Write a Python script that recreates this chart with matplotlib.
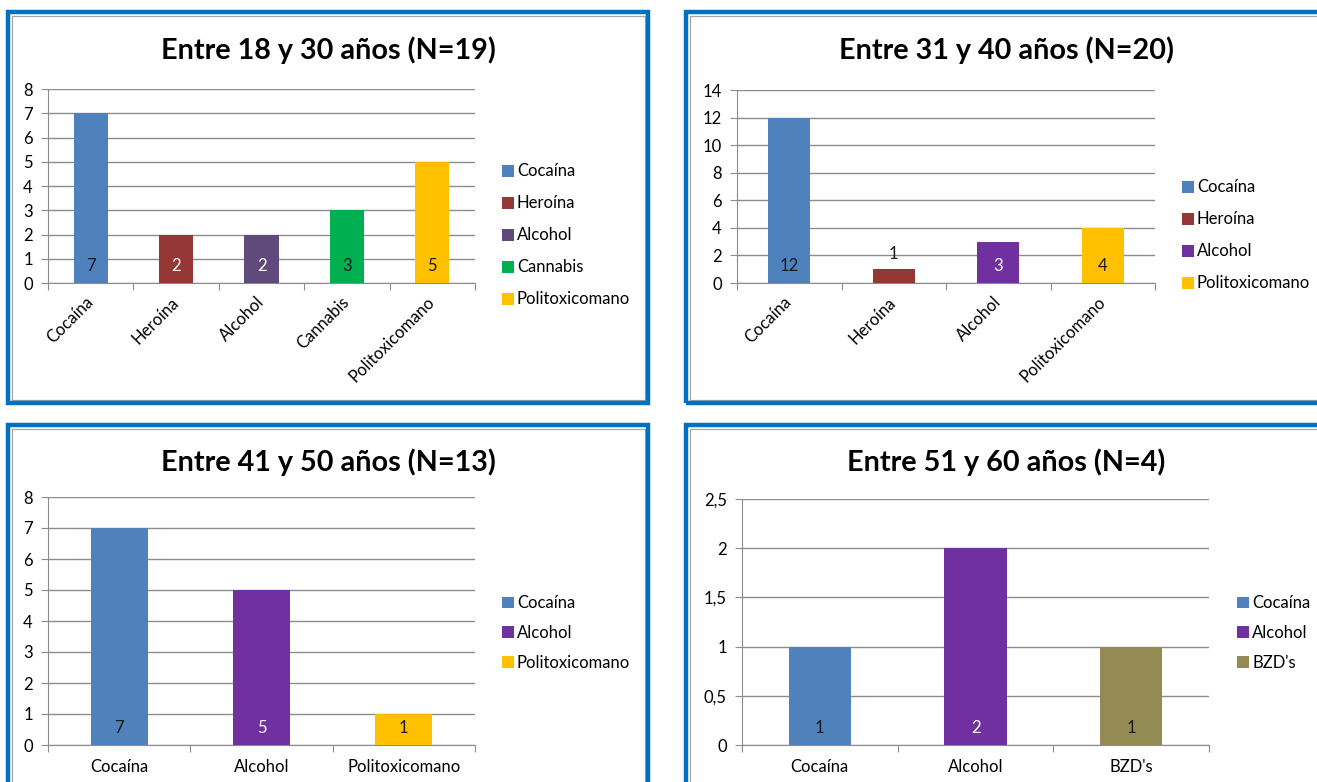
import matplotlib
matplotlib.use('Agg')
import matplotlib.pyplot as plt
from matplotlib.patches import Rectangle

# data
cats_18_30 = ['Cocaína', 'Heroína', 'Alcohol', 'Cannabis', 'Politoxicomano']
vals_18_30 = [7, 2, 2, 3, 5]
cats_31_40 = ['Cocaína', 'Heroína', 'Alcohol', 'Politoxicomano']
vals_31_40 = [12, 1, 3, 4]
cats_41_50 = ['Cocaína', 'Alcohol', 'Politoxicomano']
vals_41_50 = [7, 5, 1]
cats_51_60 = ['Cocaína', 'Alcohol', "BZD's"]
vals_51_60 = [1, 2, 1]

titles = ['Entre 18 y 30 años (N=19)', 'Entre 31 y 40 años (N=20)',
          'Entre 41 y 50 años (N=13)', 'Entre 51 y 60 años (N=4)']
yticks_18_30 = [0, 1, 2, 3, 4, 5, 6, 7, 8]
yticks_31_40 = [0, 2, 4, 6, 8, 10, 12, 14]
yticks_41_50 = [0, 1, 2, 3, 4, 5, 6, 7, 8]
yticks_51_60 = [0, 0.5, 1, 1.5, 2, 2.5]
ylabels_51_60 = ['0', '0,5', '1', '1,5', '2', '2,5']

colors = {'Cocaína': '#4F81BD', 'Heroína': '#953735', 'Alcohol': '#7030A0',
          'Cannabis': '#00B050', 'Politoxicomano': '#FFC000', "BZD's": '#948A54'}
white_text = {'Heroína', 'Alcohol'}

W, H = 1317, 782
FONT = 'Lato'
FS = 12
GRID = '#8C8C8C'
BLUE = '#0070C0'

fig = plt.figure(figsize=(W / 100, H / 100), dpi=100)
fig.patch.set_facecolor('white')


def frac(x0, y0, x1, y1):
    return [x0 / W, 1 - y1 / H, (x1 - x0) / W, (y1 - y0) / H]


def border(x0, y0, x1, y1):
    fig.add_artist(Rectangle((x0 / W, 1 - y1 / H), (x1 - x0) / W, (y1 - y0) / H,
                             transform=fig.transFigure, fill=False,
                             edgecolor=BLUE, lw=3.2, zorder=5))
    d = 3.5
    fig.add_artist(Rectangle(((x0 + d) / W, 1 - (y1 - d) / H), (x1 - x0 - 2 * d) / W,
                             (y1 - y0 - 2 * d) / H, transform=fig.transFigure,
                             fill=False, edgecolor='#A6A6A6', lw=0.9, zorder=4))


def panel(rect, cats, vals, title, title_xy, yticks, ylabels, bar_colors,
          rotate, legend_x, legend_y, lspace):
    ax = fig.add_axes(frac(*rect))
    n = len(cats)
    x = list(range(n))
    bars = ax.bar(x, vals, width=0.4, color=bar_colors, zorder=3)
    ax.set_xlim(-0.5, n - 0.5)
    ax.set_ylim(yticks[0], yticks[-1])
    ax.set_yticks(yticks)
    ax.set_yticklabels(ylabels, fontfamily=FONT, fontsize=FS)
    ax.yaxis.grid(True, color=GRID, lw=1, zorder=0)
    ax.set_xticks([i - 0.5 for i in range(n + 1)])
    ax.set_xticklabels([])
    ax.set_xticks(x, minor=True)
    if rotate:
        ax.set_xticklabels(cats, minor=True, rotation=45, ha='right', va='center',
                           rotation_mode='anchor', fontfamily=FONT, fontsize=FS)
        ax.tick_params(axis='x', which='minor', length=0, pad=12)
    else:
        ax.set_xticklabels(cats, minor=True, fontfamily=FONT, fontsize=FS)
        ax.tick_params(axis='x', which='minor', length=0, pad=10)
    ax.tick_params(axis='x', which='major', length=5, color=GRID, direction='out')
    ax.tick_params(axis='y', length=5, color=GRID, direction='out', pad=6)
    for s in ['top', 'right']:
        ax.spines[s].set_visible(False)
    for s in ['left', 'bottom']:
        ax.spines[s].set_color(GRID)
    # data labels
    ppu = (rect[3] - rect[1]) / (yticks[-1] - yticks[0])
    for b, c, v in zip(bars, cats, vals):
        tc = 'white' if c in white_text else '#1A1A1A'
        if v * ppu < 25:
            ax.annotate(str(v), (b.get_x() + b.get_width() / 2, v),
                        xytext=(0, 15), textcoords='offset pixels',
                        ha='center', va='center', fontfamily=FONT,
                        fontsize=FS, color='#1A1A1A')
        else:
            ax.annotate(str(v), (b.get_x() + b.get_width() / 2, 0),
                        xytext=(0, 17), textcoords='offset pixels',
                        ha='center', va='center', fontfamily=FONT,
                        fontsize=FS, color=tc)
    fig.text(title_xy[0] / W, 1 - title_xy[1] / H, title, ha='center', va='center',
             fontfamily=FONT, fontweight='bold', fontsize=20.7)
    ax.legend(bars, cats, loc='center left',
              bbox_to_anchor=(legend_x / W, 1 - legend_y / H),
              bbox_transform=fig.transFigure, frameon=False,
              prop={'family': FONT, 'size': FS}, handlelength=0.7,
              handleheight=0.7, handletextpad=0.2, labelspacing=lspace,
              borderpad=0, borderaxespad=0)
    return ax


c1 = [colors[c] for c in cats_18_30]
c1[2] = '#604A7B'
panel((48, 89, 475, 283), cats_18_30, vals_18_30, titles[0], (328, 50),
      yticks_18_30, [str(t) for t in yticks_18_30], c1, True, 502, 235.5, 0.96)
panel((737, 90, 1155, 283), cats_31_40, vals_31_40, titles[1], (1006, 50),
      yticks_31_40, [str(t) for t in yticks_31_40],
      [colors[c] for c in cats_31_40], True, 1182, 235.5, 0.96)
panel((48, 497, 475, 745), cats_41_50, vals_41_50, titles[2], (328, 462),
      yticks_41_50, [str(t) for t in yticks_41_50],
      [colors[c] for c in cats_41_50], False, 502, 633, 0.83)
panel((742, 499, 1209, 745), cats_51_60, vals_51_60, titles[3], (1006, 462),
      yticks_51_60, ylabels_51_60,
      [colors[c] for c in cats_51_60], False, 1237, 633, 0.83)

border(8, 12, 648, 403)
border(686, 12, 1340, 403)
border(8, 425, 648, 800)
border(686, 425, 1340, 800)

fig.savefig('out.png', dpi=100, facecolor='white')
